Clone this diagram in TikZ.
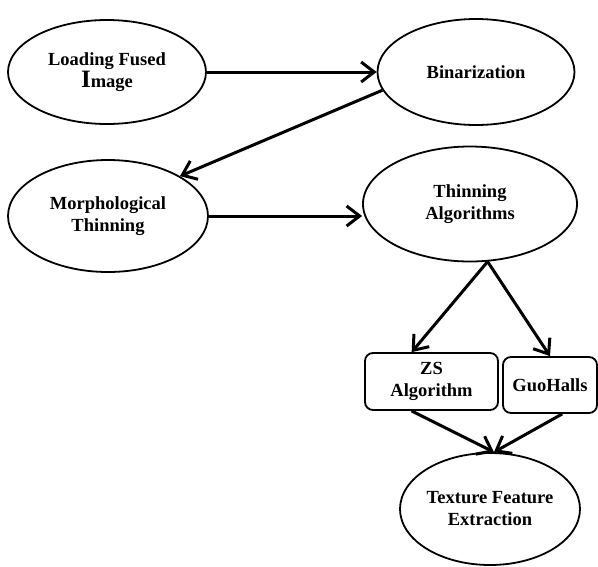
\documentclass[tikz,border=0pt]{standalone}
\usepackage{fontspec}
\setmainfont{Liberation Serif}
\usetikzlibrary{shapes.geometric,arrows.meta}

\begin{document}
\begin{tikzpicture}[x=1pt,y=-1pt,
  stage/.style={draw,ellipse,line width=1.8pt,inner sep=0pt,align=center,
    font=\bfseries\fontsize{18.5}{22}\selectfont},
  algo/.style={draw,rectangle,rounded corners=8pt,line width=1.8pt,inner sep=0pt,align=center,
    font=\bfseries\fontsize{18.5}{22}\selectfont},
  flow/.style={line width=3pt,-{Straight Barb[length=13pt,width=20pt]}}]
\useasboundingbox (0,0) rectangle (598,566);
\node[stage,minimum width=198pt,minimum height=104pt] (load) at (107,72) {Loading Fused\\{\fontsize{25}{25}\selectfont I}mage};
\node[stage,minimum width=197pt,minimum height=106pt] (bin) at (476,72) {Binarization};
\node[stage,minimum width=200pt,minimum height=112pt] (morph) at (108,216) {Morphological\\Thinning};
\node[stage,minimum width=214pt,minimum height=115pt] (thin) at (470,204) {Thinning\\Algorithms};
\node[algo,minimum width=133pt,minimum height=57pt] (zs) at (431.5,381.5) {ZS\\Algorithm};
\node[algo,minimum width=94pt,minimum height=56pt] (guo) at (550,385) {GuoHalls};
\node[stage,minimum width=180pt,minimum height=112pt] (tex) at (490,509) {Texture Feature\\Extraction};
\draw[flow] (load.east) -- (bin.west);
\draw[flow] (bin.191) -- (morph.29);
\draw[flow] (morph.east) -- (morph.east -| thin.west);
\draw[flow] (thin.287) -- (zs.124);
\draw[flow] (thin.287) -- (guo.north);
\draw[flow] (zs.236) -- (tex.86);
\draw[flow] (guo.293) -- (tex.86);
\end{tikzpicture}
\end{document}
